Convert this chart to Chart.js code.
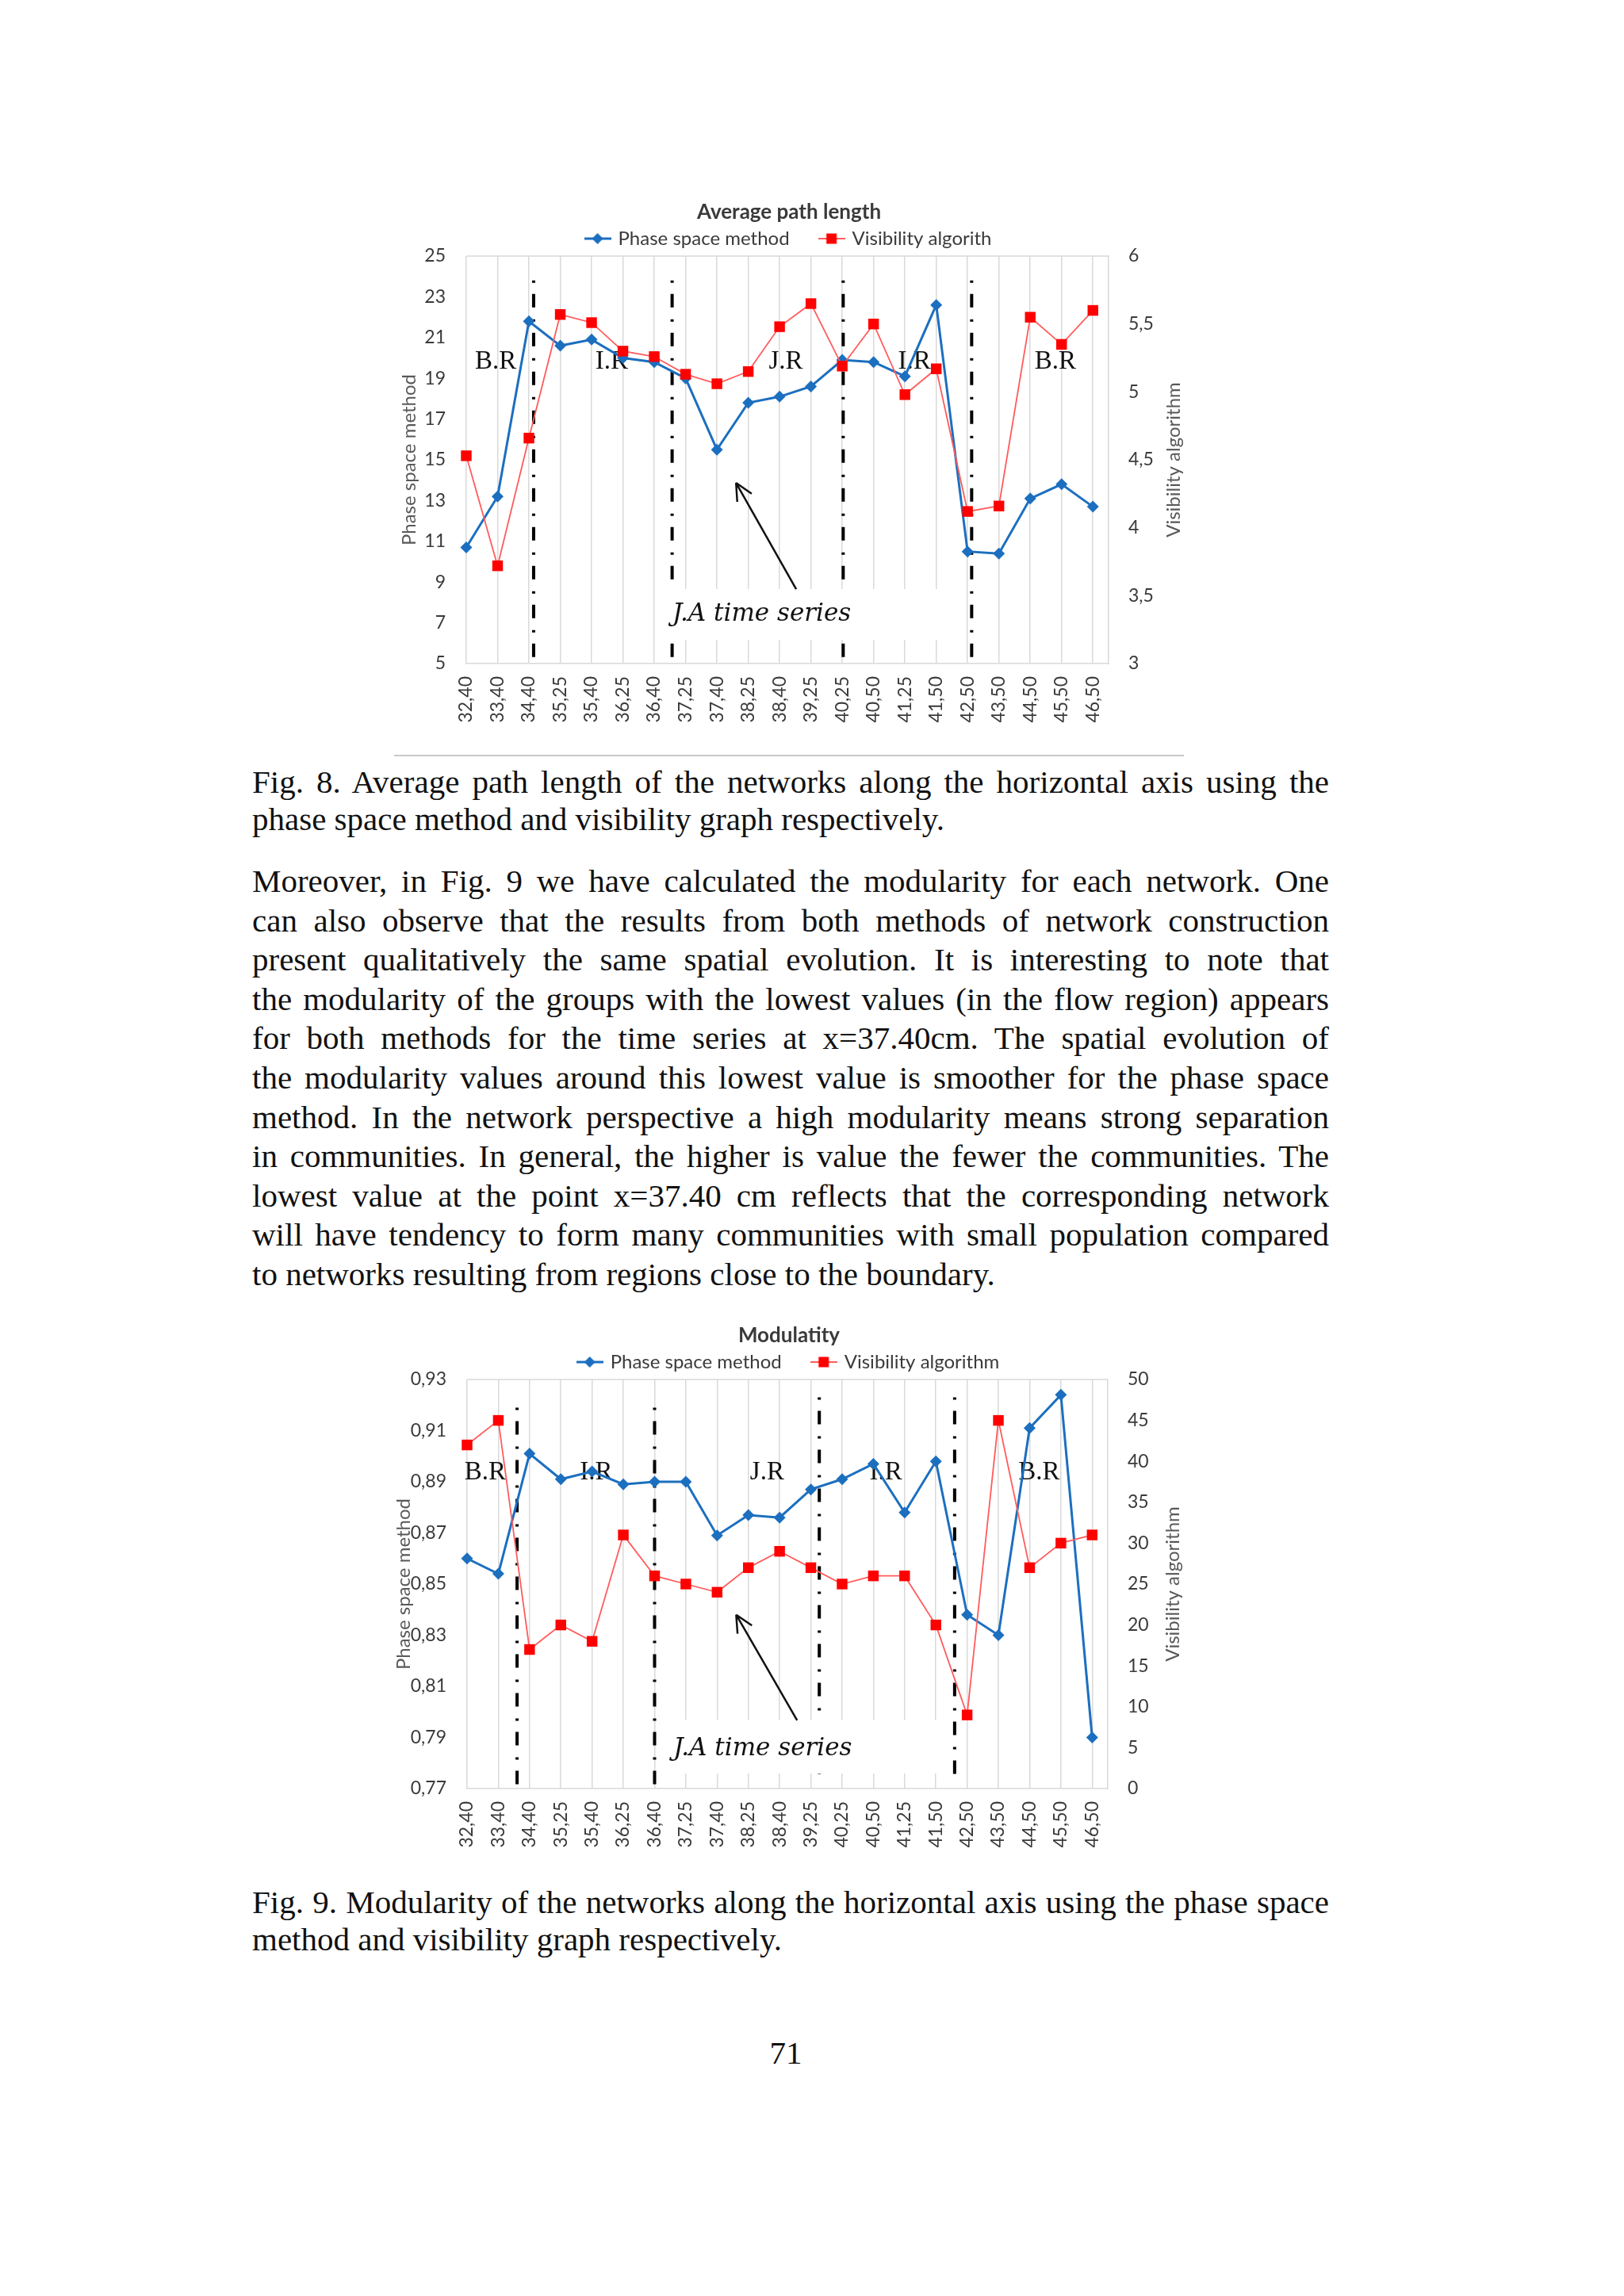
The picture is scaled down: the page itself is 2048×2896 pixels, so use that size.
<!DOCTYPE html>
<html>
<head>
<meta charset="utf-8">
<script src="https://cdn.jsdelivr.net/npm/chart.js@4.4.1/dist/chart.umd.min.js"></script>
<style>
  html, body { margin: 0; padding: 0; background: #fff; }
  body { width: 2048px; height: 2896px; position: relative; overflow: hidden; font-family: "Liberation Serif", serif; color: #111; }
  .chartbox { position: absolute; left: 470px; width: 1050px; }
  .txt { position: absolute; left: 318px; width: 1358px; font-size: 41px; line-height: 50px; }
  .just { text-align: justify; text-align-last: justify; }
  .rule { position: absolute; left: 497px; top: 952px; width: 996px; height: 2px; background: #c8c8c8; }
  .page { position: absolute; left: 891px; width: 200px; text-align: center; font-size: 41px; line-height: 50px; }
</style>
</head>
<body>
<div class="chartbox" style="top:240px;height:700px"><canvas id="aplChart"></canvas></div>
<div class="rule"></div>
<div class="chartbox" style="top:1655px;height:704px"><canvas id="modChart"></canvas></div>
<div id="text"></div>
<script>
// categories (x position along the channel, cm)
const categories = ['32,40','33,40','34,40','35,25','35,40','36,25','36,40','37,25','37,40','38,25','38,40',
  '39,25','40,25','40,50','41,25','41,50','42,50','43,50','44,50','45,50','46,50'];

// Fig. 8 - average path length
const aplPhase = [10.7, 13.2, 21.8, 20.6, 20.9, 20.0, 19.8, 19.0, 15.5, 17.8, 18.1, 18.6, 19.9, 19.8, 19.1, 22.6, 10.5, 10.4, 13.1, 13.8, 12.7];
const aplVisibility = [4.53, 3.72, 4.66, 5.57, 5.51, 5.30, 5.26, 5.13, 5.06, 5.15, 5.48, 5.65, 5.19, 5.50, 4.98, 5.17, 4.12, 4.16, 5.55, 5.35, 5.60];
const aplLeftTicks = [5, 7, 9, 11, 13, 15, 17, 19, 21, 23, 25];
const aplRightTicks = [3, 3.5, 4, 4.5, 5, 5.5, 6];

// Fig. 9 - modularity
const modPhase = [0.860, 0.854, 0.901, 0.891, 0.894, 0.889, 0.890, 0.890, 0.869, 0.877, 0.876, 0.887, 0.891, 0.897, 0.878, 0.898, 0.838, 0.830, 0.911, 0.924, 0.790];
const modVisibility = [42, 45, 17, 20, 18, 31, 26, 25, 24, 27, 29, 27, 25, 26, 26, 20, 9, 45, 27, 30, 31];
const modLeftTicks = [0.77, 0.79, 0.81, 0.83, 0.85, 0.87, 0.89, 0.91, 0.93];
const modRightTicks = [0, 5, 10, 15, 20, 25, 30, 35, 40, 45, 50];

const BLUE = '#1c6fbf';
const RED = '#ff0000';
const RED_LINE = '#ff5c5c';
const GRID = '#d9d9d9';
const INK = '#3a3a3a';

const sans = (size) => ({ family: 'Lato', size: size });
const comma = (v) => String(v).replace('.', ',');

// small legend glyph: line with the marker in the middle
function legendGlyph(kind) {
  const c = document.createElement('canvas');
  c.width = 34; c.height = 20;
  const g = c.getContext('2d');
  g.strokeStyle = kind === 'diamond' ? BLUE : RED_LINE;
  g.lineWidth = kind === 'diamond' ? 3 : 2;
  g.beginPath(); g.moveTo(0, 10); g.lineTo(34, 10); g.stroke();
  g.fillStyle = kind === 'diamond' ? BLUE : RED;
  g.beginPath();
  if (kind === 'diamond') {
    g.moveTo(17, 3); g.lineTo(24, 10); g.lineTo(17, 17); g.lineTo(10, 10);
  } else {
    g.rect(10.5, 3.5, 13, 13);
  }
  g.closePath(); g.fill();
  return c;
}
const glyphs = [legendGlyph('diamond'), legendGlyph('square')];

// separators, regions, white box and arrow drawn on top of the grid
const overlay = {
  id: 'overlay',
  beforeDatasetsDraw(chart, args, o) {
    const { ctx, chartArea: a } = chart;
    const x = chart.scales.x, y = chart.scales.y;
    const px = (v) => x.getPixelForValue(v), py = (v) => y.getPixelForValue(v);
    ctx.save();
    ctx.strokeStyle = GRID; ctx.lineWidth = 1.5;
    ctx.beginPath(); ctx.moveTo(a.left, a.top); ctx.lineTo(a.right, a.top); ctx.stroke();

    ctx.strokeStyle = '#000'; ctx.lineWidth = 4; ctx.setLineDash([3, 14, 17, 15]);
    o.separators.forEach((s) => {
      ctx.beginPath(); ctx.moveTo(px(s.x), py(s.top)); ctx.lineTo(px(s.x), py(s.bottom)); ctx.stroke();
    });
    ctx.setLineDash([]);

    const b = o.box;
    ctx.fillStyle = '#fff';
    ctx.fillRect(px(b.x0), py(b.y1), px(b.x1) - px(b.x0), py(b.y0) - py(b.y1));

    ctx.fillStyle = '#111'; ctx.textAlign = 'center'; ctx.textBaseline = 'middle';
    ctx.font = '33px "Liberation Serif"';
    o.regions.forEach((r) => ctx.fillText(r.text, px(r.x), py(o.regionY)));
    ctx.font = 'italic 31px "DejaVu Serif"';
    ctx.fillText(o.boxText.text, px(o.boxText.x), py(o.boxText.y));

    const x0 = px(o.arrow.from[0]), y0 = py(o.arrow.from[1]);
    const x1 = px(o.arrow.to[0]), y1 = py(o.arrow.to[1]);
    const ang = Math.atan2(y1 - y0, x1 - x0);
    ctx.strokeStyle = '#111'; ctx.lineWidth = 2.5;
    ctx.beginPath(); ctx.moveTo(x0, y0); ctx.lineTo(x1, y1);
    [-0.45, 0.45].forEach((d) => {
      ctx.moveTo(x1, y1);
      ctx.lineTo(x1 - 24 * Math.cos(ang + d), y1 - 24 * Math.sin(ang + d));
    });
    ctx.stroke();

    // right axis title reads bottom to top, like the left one
    const y2 = chart.scales.y2;
    ctx.translate(y2.left + 82, (a.top + a.bottom) / 2);
    ctx.rotate(-Math.PI / 2);
    ctx.fillStyle = '#595959'; ctx.font = '24px Lato';
    ctx.fillText(o.rightTitle, 0, 0);
    ctx.restore();
  }
};

function makeChart(id, c) {
  return new Chart(document.getElementById(id), {
    type: 'line',
    data: {
      datasets: [
        {
          label: c.names[0], data: c.phase.map((v, i) => ({ x: i, y: v })), yAxisID: 'y', order: 1,
          borderColor: BLUE, borderWidth: 3, pointStyle: 'rectRot', pointRadius: 7.5,
          pointBackgroundColor: BLUE, pointBorderWidth: 0, tension: 0, clip: false
        },
        {
          label: c.names[1], data: c.visibility.map((v, i) => ({ x: i, y: v })), yAxisID: 'y2', order: 0,
          borderColor: RED_LINE, borderWidth: 1.8, pointStyle: 'rect', pointRadius: 9.5,
          pointBackgroundColor: RED, pointBorderWidth: 0, tension: 0, clip: false
        }
      ]
    },
    options: {
      responsive: true,
      maintainAspectRatio: false,
      animation: false,
      layout: { padding: 0 },
      plugins: {
        title: {
          display: true, text: c.title, color: INK, font: sans(26),
          padding: { top: c.titleTop, bottom: c.titleBottom }
        },
        legend: {
          position: 'top',
          labels: {
            usePointStyle: true, pointStyleWidth: 28, padding: 39, color: INK, font: sans(24),
            generateLabels: (chart) => chart.data.datasets.map((ds, i) => ({
              text: ds.label, pointStyle: glyphs[i], fillStyle: ds.borderColor, strokeStyle: ds.borderColor,
              lineWidth: 0, hidden: false, datasetIndex: i, fontColor: INK
            }))
          }
        },
        tooltip: { enabled: false },
        overlay: c.overlay
      },
      scales: {
        x: {
          type: 'linear', min: 0, max: categories.length - 0.5,
          afterBuildTicks: (s) => { s.ticks = categories.map((_, i) => ({ value: i })); },
          ticks: {
            autoSkip: false, maxRotation: 90, minRotation: 90, padding: 16, color: INK, font: sans(23),
            callback: (v) => categories[v] ?? ''
          },
          grid: { color: GRID, lineWidth: 1.5, drawTicks: false },
          border: { display: true, color: GRID, width: 1.5 },
          afterFit: (s) => { s.height = 103; }
        },
        y: {
          position: 'left', min: c.leftTicks[0], max: c.leftTicks[c.leftTicks.length - 1],
          afterBuildTicks: (s) => { s.ticks = c.leftTicks.map((v) => ({ value: v })); },
          ticks: { padding: 26, color: INK, font: sans(23), callback: c.leftFormat },
          grid: { display: false, drawTicks: false },
          border: { display: false },
          title: { display: true, text: 'Phase space method', color: '#595959', font: sans(24), padding: { top: c.leftTitlePad, bottom: 0 } },
          afterFit: (s) => { s.width = c.leftWidth; }
        },
        y2: {
          position: 'right', min: c.rightTicks[0], max: c.rightTicks[c.rightTicks.length - 1],
          afterBuildTicks: (s) => { s.ticks = c.rightTicks.map((v) => ({ value: v })); },
          ticks: { padding: 25, color: INK, font: sans(23), callback: comma },
          grid: { display: false, drawTicks: false },
          border: { display: true, color: GRID, width: 1.5 },
          afterFit: (s) => { s.width = c.rightWidth; }
        }
      }
    },
    plugins: [overlay]
  });
}

makeChart('aplChart', {
  title: 'Average path length',
  names: ['Phase space method', 'Visibility algorith'],
  phase: aplPhase, visibility: aplVisibility,
  leftTicks: aplLeftTicks, rightTicks: aplRightTicks,
  leftFormat: comma,
  titleTop: 12.4, titleBottom: -33.6,
  leftTitlePad: 31.6, leftWidth: 118, rightWidth: 122,
  overlay: {
    separators: [
      { x: 2.15, top: 23.8, bottom: 5 }, { x: 6.57, top: 23.8, bottom: 5 },
      { x: 12.03, top: 23.8, bottom: 5 }, { x: 16.13, top: 23.8, bottom: 5 }
    ],
    box: { x0: 6.05, x1: 15.24, y0: 6.17, y1: 8.66 },
    regionY: 19.8,
    regions: [
      { x: 0.94, text: 'B.R' }, { x: 4.64, text: 'I.R' }, { x: 10.2, text: 'J.R' },
      { x: 14.3, text: 'I.R' }, { x: 18.8, text: 'B.R' }
    ],
    boxText: { x: 9.43, y: 7.4, text: 'J.A time series' },
    arrow: { from: [10.53, 8.65], to: [8.61, 13.87] },
    rightTitle: 'Visibility algorithm'
  }
});

makeChart('modChart', {
  title: 'Modulatity',
  names: ['Phase space method', 'Visibility algorithm'],
  phase: modPhase, visibility: modVisibility,
  leftTicks: modLeftTicks, rightTicks: modRightTicks,
  leftFormat: (v) => v.toFixed(2).replace('.', ','),
  titleTop: 14.4, titleBottom: -33.6,
  leftTitlePad: 24.6, leftWidth: 119, rightWidth: 123,
  overlay: {
    separators: [
      { x: 1.6, top: 0.919, bottom: 0.7682 }, { x: 6.0, top: 0.919, bottom: 0.7682 },
      { x: 11.27, top: 0.923, bottom: 0.7724 }, { x: 15.6, top: 0.923, bottom: 0.7724 }
    ],
    box: { x0: 6.1, x1: 15.4, y0: 0.7759, y1: 0.7968 },
    regionY: 0.8937,
    regions: [
      { x: 0.58, text: 'B.R' }, { x: 4.13, text: 'I.R' }, { x: 9.6, text: 'J.R' },
      { x: 13.4, text: 'I.R' }, { x: 18.3, text: 'B.R' }
    ],
    boxText: { x: 9.46, y: 0.7856, text: 'J.A time series' },
    arrow: { from: [10.56, 0.7967], to: [8.61, 0.838] },
    rightTitle: 'Visibility algorithm'
  }
});

// page text, one block per printed line: [text, visual centre y, justified]
const lines = [
  ['Fig. 8. Average path length of the networks along the horizontal axis using the', 990, true],
  ['phase space method and visibility graph respectively.', 1037, false],
  ['Moreover, in Fig. 9 we have calculated the modularity for each network. One', 1115, true],
  ['can also observe that the results from both methods of network construction', 1164.6, true],
  ['present qualitatively the same spatial evolution. It is interesting to note that', 1214.2, true],
  ['the modularity of the groups with the lowest values (in the flow region) appears', 1263.8, true],
  ['for both methods for the time series at x=37.40cm. The spatial evolution of', 1313.4, true],
  ['the modularity values around this lowest value is smoother for the phase space', 1363, true],
  ['method. In the network perspective a high modularity means strong separation', 1412.6, true],
  ['in communities. In general, the higher is value the fewer the communities. The', 1462.2, true],
  ['lowest value at the point x=37.40 cm reflects that the corresponding network', 1511.8, true],
  ['will have tendency to form many communities with small population compared', 1561.4, true],
  ['to networks resulting from regions close to the boundary.', 1611, false],
  ['Fig. 9. Modularity of the networks along the horizontal axis using the phase space', 2403, true],
  ['method and visibility graph respectively.', 2450, false]
];
const holder = document.getElementById('text');
lines.forEach(([t, cy, j]) => {
  const d = document.createElement('div');
  d.className = 'txt' + (j ? ' just' : '');
  d.style.top = (cy - 29) + 'px';
  d.textContent = t;
  holder.appendChild(d);
});
const pg = document.createElement('div');
pg.className = 'page';
pg.style.top = (2593 - 29) + 'px';
pg.textContent = '71';
holder.appendChild(pg);
</script>
</body>
</html>
